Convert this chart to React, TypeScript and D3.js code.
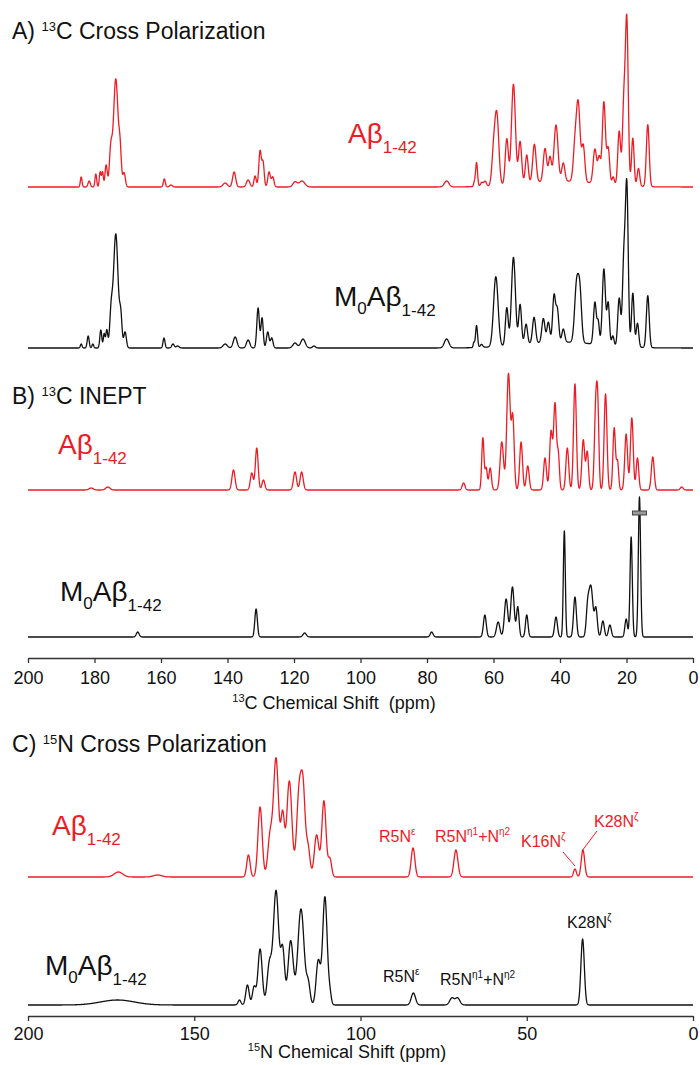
import React, { useRef, useEffect } from 'react';
import * as d3 from 'd3';

// peaks: [ppm, intensity, linewidth (ppm)]
const cpAbeta = [
  [184.0, 10, 0.6], [181.6, 6, 0.8], [179.6, 13, 0.6], [178.3, 15, 0.6], [177.6, 15, 0.6],
  [176.5, 22, 0.8], [175.1, 36, 1.0], [173.6, 108, 1.6], [172.3, 32, 0.9], [171.1, 14, 0.9],
  [159.0, 8, 0.7], [157.0, 2, 1.0], [140.7, 4, 1.5], [138.0, 15, 1.1], [133.8, 7, 1.2],
  [131.7, 11, 0.8], [130.2, 36, 0.9], [129.3, 24, 0.8], [127.5, 15, 0.9], [126.4, 10, 0.9],
  [119.7, 5, 1.5], [117.6, 6, 2.0], [74.1, 6, 1.6], [65.8, 4, 0.5], [65.1, 24, 0.7],
  [63.5, 4, 0.9], [62.5, 5, 0.9], [60.0, 30, 1.2], [59.0, 70, 1.4], [56.0, 46, 1.1],
  [54.0, 100, 1.4], [52.0, 42, 1.1], [50.0, 28, 1.0], [47.7, 38, 1.2], [44.5, 33, 1.2],
  [43.0, 24, 1.0], [41.2, 56, 1.4], [39.0, 18, 1.1], [35.5, 34, 1.2], [34.5, 76, 1.3],
  [33.0, 36, 1.1], [29.5, 34, 1.2], [28.2, 26, 1.0], [26.8, 82, 1.1], [25.5, 36, 1.0],
  [24.0, 8, 0.8], [22.2, 54, 1.0], [20.8, 80, 1.0], [19.9, 162, 1.0], [18.1, 48, 0.9],
  [16.4, 18, 0.9], [13.6, 62, 1.0], [40.0, 6, 26]
];

const cpM0Abeta = [
  [184.0, 4, 0.6], [181.9, 12, 0.7], [180.5, 4, 0.6], [178.1, 18, 0.7], [177.1, 14, 0.6],
  [176.3, 18, 0.7], [175.0, 34, 1.0], [173.6, 114, 1.6], [172.1, 30, 0.9], [170.8, 16, 0.9],
  [159.1, 10, 0.7], [156.4, 4, 0.9], [155.0, 2, 1.0], [140.7, 4, 1.5], [137.7, 11, 1.3],
  [133.8, 8, 1.2], [130.8, 40, 0.9], [129.6, 30, 0.8], [127.9, 16, 0.9], [126.7, 10, 0.9],
  [119.7, 5, 1.5], [117.3, 9, 1.6], [114.0, 2, 1.0], [74.1, 9, 1.6], [65.9, 5, 0.5],
  [65.1, 22, 0.7], [63.6, 3, 0.9], [59.3, 70, 1.6], [56.0, 38, 1.0], [54.0, 88, 1.4],
  [52.0, 40, 1.0], [50.2, 20, 1.0], [47.8, 26, 1.1], [45.0, 24, 1.1], [43.5, 20, 1.0],
  [41.8, 46, 1.0], [40.8, 32, 1.0], [39.0, 13, 1.0], [35.0, 58, 1.4], [34.0, 46, 1.2],
  [29.5, 42, 1.0], [28.5, 22, 0.8], [26.8, 76, 1.1], [25.5, 42, 0.9], [24.1, 10, 0.8],
  [22.2, 48, 1.0], [20.8, 84, 1.0], [19.9, 158, 1.0], [18.1, 54, 0.9], [16.7, 24, 0.9],
  [13.6, 52, 1.0], [40.0, 6, 26]
];

const ineptAbeta = [
  [181.0, 2, 1.5], [176.0, 3, 1.5], [138.2, 20, 1.1], [132.7, 17, 1.0], [131.2, 42, 1.0],
  [129.2, 10, 1.0], [119.7, 18, 1.1], [117.7, 18, 1.1], [69.0, 7, 1.0], [63.2, 52, 0.8],
  [62.2, 22, 0.8], [61.0, 22, 0.9], [57.5, 48, 1.2], [55.5, 116, 1.2], [54.2, 72, 1.0],
  [51.7, 48, 1.0], [49.7, 24, 1.0], [44.5, 32, 1.0], [42.7, 58, 1.0], [41.5, 86, 1.0],
  [40.5, 34, 0.8], [37.8, 42, 1.0], [35.5, 106, 1.0], [33.0, 50, 1.0], [31.8, 38, 0.9],
  [29.2, 86, 1.0], [28.6, 62, 0.8], [26.3, 96, 1.0], [23.7, 62, 0.9], [22.7, 28, 0.8],
  [20.1, 56, 1.0], [18.4, 72, 1.0], [16.7, 32, 0.9], [12.1, 33, 1.0], [3.4, 3, 1.0]
];

const ineptM0Abeta = [
  [167.0, 5, 1.0], [131.4, 28, 0.9], [116.8, 4, 1.2], [78.6, 5, 1.0], [62.6, 22, 1.0],
  [58.6, 15, 1.2], [56.2, 38, 1.2], [54.3, 50, 1.2], [52.7, 30, 0.9], [50.0, 22, 0.9],
  [41.2, 20, 1.0], [38.7, 106, 0.7], [35.5, 40, 1.0], [31.7, 26, 1.0], [30.7, 50, 1.4],
  [29.2, 28, 1.0], [27.1, 16, 1.0], [25.0, 12, 1.0], [20.1, 18, 0.9], [18.6, 100, 0.8],
  [16.1, 140, 0.8]
];

const nAbeta = [
  [172.8, 5, 3.0], [161.0, 2, 3.0], [133.7, 22, 1.2], [130.2, 70, 1.5], [127.2, 40, 1.6],
  [125.4, 118, 1.8], [123.4, 60, 1.3], [121.4, 96, 1.8], [118.4, 88, 1.8], [117.2, 70, 1.4],
  [115.8, 30, 1.4], [113.2, 42, 1.6], [111.0, 76, 1.5], [109.2, 18, 1.2],
  [84.2, 29, 1.3], [71.3, 27, 1.4], [35.5, 8, 1.0], [33.1, 27, 1.2]
];

const nM0Abeta = [
  [173.1, 5, 12.0], [136.4, 5, 1.0], [134.0, 20, 1.2], [132.0, 18, 1.2], [130.2, 56, 1.5],
  [127.4, 40, 1.6], [125.4, 114, 1.9], [123.4, 54, 1.4], [121.0, 64, 1.8], [117.9, 96, 2.2],
  [115.7, 20, 1.3], [112.7, 44, 1.5], [110.7, 108, 1.6], [109.2, 10, 1.0],
  [84.1, 12, 1.5], [72.5, 7, 1.6], [70.8, 7, 1.6], [33.2, 66, 1.2]
];

const c13Ticks = [200, 180, 160, 140, 120, 100, 80, 60, 40, 20, 0];
const n15Ticks = [200, 150, 100, 50, 0];

const RED = '#ed1c24';
const INK = '#111';
const FONT = '"Liberation Sans", Arial, Helvetica, sans-serif';

const ppmGrid = d3.range(200, -0.0001, -0.05);
function spectrum(peaks) {
  return ppmGrid.map(p => {
    let v = 0;
    for (const [c, h, w] of peaks) {
      const d = (p - c) / w;
      v += h * Math.exp(-2.7726 * d * d);
    }
    return [p, v];
  });
}

const x = d3.scaleLinear().domain([200, 0]).range([28, 693]);

const traces = [
  { peaks: cpAbeta, base: 187, color: RED },
  { peaks: cpM0Abeta, base: 348, color: INK },
  { peaks: ineptAbeta, base: 490, color: RED },
  { peaks: ineptM0Abeta, base: 637, color: INK },
  { peaks: nAbeta, base: 877, color: RED },
  { peaks: nM0Abeta, base: 1005, color: INK }
];

const Label = ({ x0, y0, color, m0 }) => (
  <text x={x0} y={y0} fill={color} fontSize={28} fontFamily={FONT}>
    {m0 ? <tspan>M</tspan> : null}
    {m0 ? <tspan fontSize={17} dy={8}>0</tspan> : null}
    <tspan dy={m0 ? -8 : 0}>Aβ</tspan>
    <tspan fontSize={17} dy={10}>1-42</tspan>
  </text>
);

const Title = ({ y0, letter, iso, rest }) => (
  <text x={12} y={y0} fontSize={23} fontFamily={FONT} fill={INK}>
    {letter}) <tspan fontSize={13} dy={-8}>{iso}</tspan>
    <tspan dy={8}>{rest}</tspan>
  </text>
);

const Annot = ({ x0, y0, color, name, sup, sup2 }) => (
  <text x={x0} y={y0} fill={color} fontSize={16} fontFamily={FONT}>
    {name}
    <tspan fontSize={10} dy={-7}>{sup}</tspan>
    {sup2 ? <tspan dy={7}>+N</tspan> : null}
    {sup2 ? <tspan fontSize={10} dy={-7}>{sup2}</tspan> : null}
  </text>
);

export default function App() {
  const ax13 = useRef(null);
  const ax15 = useRef(null);

  useEffect(() => {
    const a = d3.axisBottom(x).tickValues(c13Ticks).tickSize(5).tickSizeOuter(0).tickPadding(8);
    const g = d3.select(ax13.current).call(a);
    const b = d3.axisBottom(x).tickValues(n15Ticks).tickSize(5).tickSizeOuter(0).tickPadding(6);
    const h = d3.select(ax15.current).call(b);
    [g, h].forEach(s => {
      s.selectAll('text').attr('font-size', 18).attr('font-family', FONT).attr('fill', INK);
      s.selectAll('line').attr('stroke', '#333').attr('stroke-width', 1.3);
      s.select('.domain').attr('stroke', '#333').attr('stroke-width', 1.5);
    });
  }, []);

  const line = d3.line();

  return (
    <svg width={700} height={1065} style={{ position: 'absolute', left: 0, top: 0, background: '#fff' }}>
      {traces.map((t, i) => {
        const y = d3.scaleLinear().domain([0, 100]).range([t.base, t.base - 100]);
        const d = line(spectrum(t.peaks).map(([p, v]) => [x(p), y(v)]));
        return <path key={i} d={d} fill="none" stroke={t.color} strokeWidth={1.3} strokeLinejoin="round" />;
      })}

      {/* break mark on the truncated INEPT peak */}
      <rect x={x(16.1) - 7} y={511} width={14} height={4} fill="#999" stroke="#444" strokeWidth={1} />

      <Title y0={39} letter="A" iso="13" rest="C Cross Polarization" />
      <Title y0={404} letter="B" iso="13" rest="C INEPT" />
      <Title y0={752} letter="C" iso="15" rest="N Cross Polarization" />

      <Label x0={348} y0={143} color={RED} />
      <Label x0={334} y0={306} color={INK} m0 />
      <Label x0={58} y0={454} color={RED} />
      <Label x0={60} y0={601} color={INK} m0 />
      <Label x0={52} y0={835} color={RED} />
      <Label x0={45} y0={975} color={INK} m0 />

      <Annot x0={379} y0={842} color={RED} name="R5N" sup="ε" />
      <Annot x0={435} y0={842} color={RED} name="R5N" sup="η1" sup2="η2" />
      <Annot x0={521} y0={847} color={RED} name="K16N" sup="ζ" />
      <Annot x0={594} y0={827} color={RED} name="K28N" sup="ζ" />
      <line x1={563} y1={852} x2={x(35.5)} y2={866} stroke={RED} strokeWidth={1} />
      <line x1={597} y1={831} x2={x(33.4)} y2={851} stroke={RED} strokeWidth={1} />

      <Annot x0={383} y0={982} color={INK} name="R5N" sup="ε" />
      <Annot x0={440} y0={985} color={INK} name="R5N" sup="η1" sup2="η2" />
      <Annot x0={567} y0={928} color={INK} name="K28N" sup="ζ" />

      <g ref={ax13} transform="translate(0,658)" />
      <g ref={ax15} transform="translate(0,1016)" />

      <text x={334} y={709} textAnchor="middle" fontSize={18} fontFamily={FONT} fill={INK}>
        <tspan fontSize={11} dy={-7}>13</tspan><tspan dy={7}>{'C Chemical Shift\u00a0\u00a0(ppm)'}</tspan>
      </text>
      <text x={347} y={1058} textAnchor="middle" fontSize={18} fontFamily={FONT} fill={INK}>
        <tspan fontSize={11} dy={-7}>15</tspan><tspan dy={7}>N Chemical Shift (ppm)</tspan>
      </text>
    </svg>
  );
}
